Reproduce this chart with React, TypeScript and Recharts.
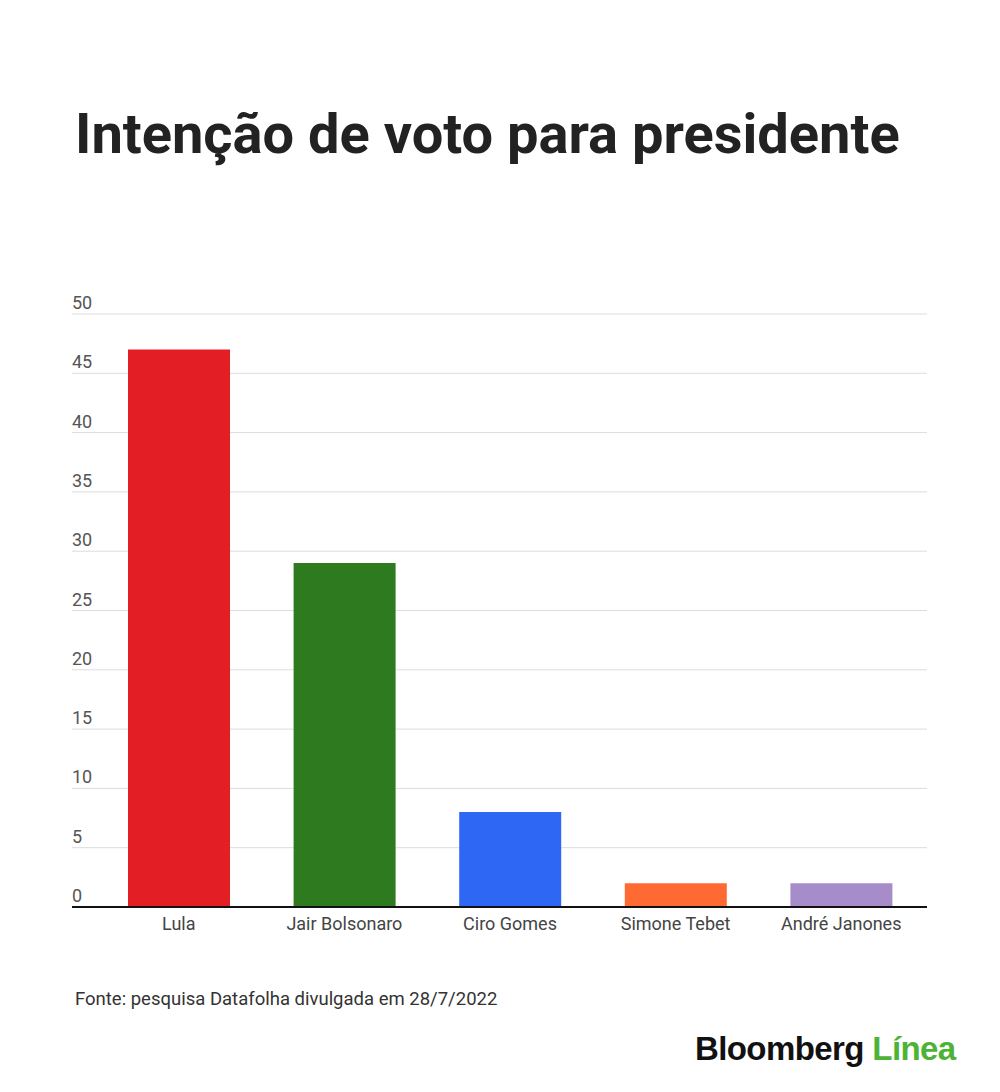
import React from "react";
import { BarChart, Bar, XAxis, YAxis, CartesianGrid, Cell } from "recharts";

const candidates = ["Lula", "Jair Bolsonaro", "Ciro Gomes", "Simone Tebet", "André Janones"];
const votes = [47, 29, 8, 2, 2];
const barColors = ["#e31e24", "#2e7a1f", "#2f67f5", "#ff6a33", "#a68cc9"];
const yTicks = [0, 5, 10, 15, 20, 25, 30, 35, 40, 45, 50];

const data = candidates.map((name, i) => ({ name, value: votes[i] }));

const YTick = (props: any) => {
  const { y, payload } = props;
  return (
    <text x={72} y={y - 5} fill="#555" fontSize={18} fontFamily="Roboto" textAnchor="start">
      {payload.value}
    </text>
  );
};

const XTick = (props: any) => {
  const { x, y, payload } = props;
  return (
    <text x={x} y={y + 15} fill="#444" fontSize={18} fontFamily="Roboto" textAnchor="middle">
      {payload.value}
    </text>
  );
};

export default function App() {
  return (
    <div style={{ position: "relative", width: 1000, height: 1092, background: "#fff", fontFamily: "Roboto" }}>
      <style>{"body{margin:0;}"}</style>
      <div
        style={{
          position: "absolute",
          left: 75,
          top: 100,
          fontSize: 56,
          fontWeight: 700,
          color: "#222",
          fontFamily: "Roboto",
          lineHeight: "68px",
          whiteSpace: "nowrap",
        }}
      >
        Intenção de voto para presidente
      </div>
      <div style={{ position: "absolute", left: 0, top: 280 }}>
        <BarChart
          width={1000}
          height={680}
          data={data}
          margin={{ top: 34, right: 73, left: 42, bottom: 0 }}
          barCategoryGap={0}
        >
          <CartesianGrid horizontal vertical={false} stroke="#dcdcdc" />
          <XAxis
            dataKey="name"
            height={53}
            tick={<XTick />}
            tickLine={false}
            axisLine={{ stroke: "#111", strokeWidth: 2 }}
            padding={{ left: 24, right: 3 }}
            interval={0}
          />
          <YAxis
            width={30}
            domain={[0, 50]}
            ticks={yTicks}
            tick={<YTick />}
            tickLine={false}
            axisLine={false}
            interval={0}
          />
          <Bar dataKey="value" barSize={102} isAnimationActive={false}>
            {data.map((d, i) => (
              <Cell key={d.name} fill={barColors[i]} />
            ))}
          </Bar>
        </BarChart>
      </div>
      <div
        style={{
          position: "absolute",
          left: 75,
          top: 989,
          fontSize: 18.5,
          color: "#333",
          fontFamily: "Roboto",
          lineHeight: "20px",
          whiteSpace: "nowrap",
        }}
      >
        Fonte: pesquisa Datafolha divulgada em 28/7/2022
      </div>
      <div
        style={{
          position: "absolute",
          left: 695,
          top: 1031,
          fontSize: 33,
          fontWeight: 700,
          fontFamily: "Liberation Sans",
          lineHeight: "36px",
          letterSpacing: -0.6,
          whiteSpace: "nowrap",
        }}
      >
        <span style={{ color: "#111" }}>Bloomberg</span>{" "}
        <span style={{ color: "#4cb336" }}>Línea</span>
      </div>
    </div>
  );
}
